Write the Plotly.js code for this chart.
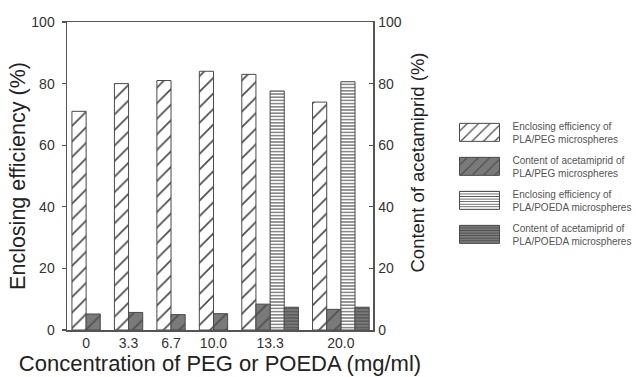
<!DOCTYPE html>
<html>
<head>
<meta charset="utf-8">
<script src="https://cdn.plot.ly/plotly-3.0.1.min.js"></script>
<style>
  html, body { margin: 0; padding: 0; background: #fff; }
  #chart { width: 636px; height: 377px; }
</style>
</head>
<body>
<div id="chart"></div>
<script>
// ---- data ----
const categories = ['0', '3.3', '6.7', '10.0', '13.3', '20.0'];
const effPEG    = [71, 80, 81, 84, 83, 74];          // Enclosing efficiency of PLA/PEG microspheres (%)
const contPEG   = [5.2, 5.7, 5.0, 5.3, 8.4, 6.7];    // Content of acetamiprid of PLA/PEG microspheres (%)
const effPOEDA  = [null, null, null, null, 77.6, 80.6]; // Enclosing efficiency of PLA/POEDA microspheres (%)
const contPOEDA = [null, null, null, null, 7.4, 7.4];   // Content of acetamiprid of PLA/POEDA microspheres (%)
const seriesNames = [
  'Enclosing efficiency of<br>PLA/PEG microspheres',
  'Content of acetamiprid of<br>PLA/PEG microspheres',
  'Enclosing efficiency of<br>PLA/POEDA microspheres',
  'Content of acetamiprid of<br>PLA/POEDA microspheres'
];

// ---- layout of bar slots: each group packs its present bars side by side, one empty slot between groups ----
const allSeries = [effPEG, contPEG, effPOEDA, contPOEDA];
const xs = allSeries.map(() => categories.map(() => null));
const tickPos = [];
let slot = 0;
categories.forEach((c, i) => {
  const start = slot;
  allSeries.forEach((s, j) => {
    if (s[i] !== null && s[i] !== undefined) { xs[j][i] = slot + 0.5; slot++; }
  });
  tickPos.push((start + slot) / 2);
  slot++;
});

const edge = '#4a4a4a';
const styles = [
  { bg: '#ffffff', fg: '#4a4a4a', shape: '/', size: 11, solidity: 0.15, yaxis: 'y'  },
  { bg: '#7a7a7a', fg: '#4f4f4f', shape: '/', size: 11, solidity: 0.15, yaxis: 'y2' },
  { bg: '#ffffff', fg: '#555555', shape: '-', size: 3.2, solidity: 0.35, yaxis: 'y'  },
  { bg: '#7a7a7a', fg: '#4f4f4f', shape: '-', size: 3.2, solidity: 0.35, yaxis: 'y2' }
];

const traces = allSeries.map((s, j) => ({
  type: 'bar',
  name: seriesNames[j],
  x: xs[j],
  y: s,
  width: 1,
  yaxis: styles[j].yaxis,
  legendgroup: 'g' + j,
  marker: {
    color: styles[j].bg,
    line: { color: edge, width: 1 },
    pattern: { shape: styles[j].shape, fgcolor: styles[j].fg, bgcolor: styles[j].bg,
               size: styles[j].size, solidity: styles[j].solidity, fillmode: 'replace' }
  },
  hoverinfo: 'skip'
}));

const axisColor = '#555555';
const font = 'Liberation Sans, Arial, sans-serif';

const layout = {
  width: 636, height: 377,
  margin: { l: 67, r: 263, t: 22, b: 47, autoexpand: false },
  paper_bgcolor: '#ffffff', plot_bgcolor: '#ffffff',
  barmode: 'overlay',
  showlegend: true,
  font: { family: font, color: '#333333' },
  xaxis: {
    range: [-0.35, slot - 0.73],
    tickmode: 'array', tickvals: tickPos, ticktext: categories,
    ticks: '', showgrid: false, zeroline: false,
    showline: true, mirror: true, linecolor: axisColor, linewidth: 1.5,
    tickfont: { size: 14, color: '#333' },
    title: { text: 'Concentration of PEG or POEDA (mg/ml)', font: { size: 22, color: '#222' }, standoff: 5 }
  },
  yaxis: {
    range: [0, 100], tickvals: [0, 20, 40, 60, 80, 100],
    ticks: 'outside', ticklen: 4, tickcolor: axisColor, tickwidth: 1.2,
    ticklabelstandoff: 4,
    showgrid: false, zeroline: false,
    showline: true, linecolor: axisColor, linewidth: 1.5,
    tickfont: { size: 14, color: '#333' },
    title: { text: 'Enclosing efficiency (%)', font: { size: 21.5, color: '#222' }, standoff: 0 }
  },
  yaxis2: {
    overlaying: 'y', side: 'right',
    range: [0, 100], tickvals: [0, 20, 40, 60, 80, 100],
    ticks: 'inside', ticklen: 4, tickcolor: axisColor, tickwidth: 1.2,
    ticklabelstandoff: 1,
    showgrid: false, zeroline: false,
    showline: true, linecolor: axisColor, linewidth: 1.5,
    tickfont: { size: 14, color: '#333' }
  },
  annotations: [{
    text: 'Content of acetamiprid (%)', textangle: -90,
    xref: 'paper', yref: 'paper', x: 1.145, y: 0.545,
    xanchor: 'center', yanchor: 'middle', showarrow: false,
    font: { size: 18.5, color: '#222', family: font }
  }],
  legend: {
    x: 1.25, xanchor: 'left', y: 0.705, yanchor: 'top',
    traceorder: 'grouped', tracegroupgap: 5,
    font: { size: 10, color: '#555' },
    itemwidth: 53,
    bgcolor: 'rgba(0,0,0,0)'
  }
};

Plotly.newPlot('chart', traces, layout, { staticPlot: true, displayModeBar: false }).then(gd => {
  // widen legend swatches to match the reference's wide hatched boxes
  gd.querySelectorAll('.legend .traces').forEach(tr => {
    tr.querySelectorAll('.legendpoints path').forEach(p => {
      p.setAttribute('d', 'M18.5,9H-21.5V-9H18.5Z');
    });
  });
});
</script>
</body>
</html>
